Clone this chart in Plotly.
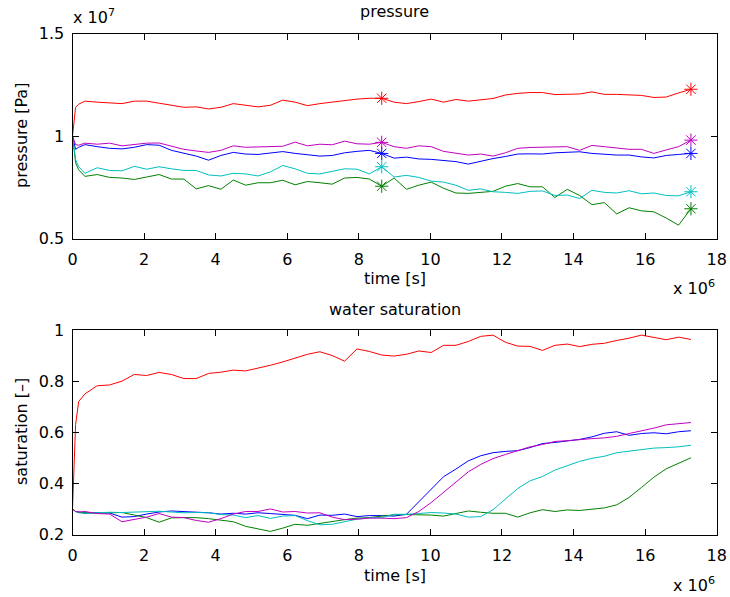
import plotly.graph_objects as go

# time grid (days of simulation); converted to seconds for the axis
days = [0, 1, 2, 4, 8, 12, 16, 20, 24, 28, 32, 36, 40, 44, 48, 52, 56, 60, 64, 68,
        72, 76, 80, 84, 88, 92, 96, 100, 104, 108, 112, 116, 120, 124, 128, 132,
        136, 140, 144, 148, 152, 156, 160, 164, 168, 172, 176, 180, 184, 188, 192,
        196, 200]
marker_days = [100, 200]

# pressure, units of 1e7 Pa
p_blue = [1.0, 0.935, 0.945, 0.958, 0.948, 0.94, 0.937, 0.945, 0.958, 0.955, 0.93, 0.915,
          0.902, 0.882, 0.905, 0.92, 0.912, 0.91, 0.918, 0.924, 0.915, 0.91, 0.902, 0.905,
          0.918, 0.925, 0.93, 0.915, 0.892, 0.897, 0.888, 0.886, 0.882, 0.875, 0.863,
          0.878, 0.89, 0.9, 0.912, 0.913, 0.912, 0.918, 0.922, 0.923, 0.915, 0.91, 0.907,
          0.907, 0.898, 0.893, 0.905, 0.91, 0.915]
p_green = [1.0, 0.87, 0.835, 0.803, 0.812, 0.798, 0.795, 0.788, 0.8, 0.812, 0.79, 0.79,
           0.742, 0.758, 0.74, 0.785, 0.76, 0.772, 0.772, 0.784, 0.762, 0.778, 0.772, 0.765,
           0.795, 0.798, 0.79, 0.755, 0.795, 0.74, 0.76, 0.775, 0.745, 0.722, 0.72, 0.725,
           0.73, 0.755, 0.768, 0.752, 0.752, 0.7, 0.74, 0.71, 0.665, 0.675, 0.62, 0.65,
           0.635, 0.63, 0.6, 0.565, 0.645]
p_red = [1.0, 1.14, 1.155, 1.17, 1.165, 1.163, 1.158, 1.17, 1.17, 1.16, 1.151, 1.14, 1.142,
         1.132, 1.14, 1.158, 1.15, 1.142, 1.15, 1.175, 1.165, 1.148, 1.158, 1.165, 1.175,
         1.18, 1.184, 1.184, 1.165, 1.158, 1.168, 1.18, 1.165, 1.178, 1.17, 1.176, 1.183,
         1.2, 1.208, 1.212, 1.212, 1.202, 1.203, 1.205, 1.215, 1.203, 1.203, 1.202, 1.198,
         1.188, 1.19, 1.21, 1.228]
p_cyan = [1.0, 0.885, 0.85, 0.818, 0.845, 0.832, 0.83, 0.852, 0.838, 0.85, 0.84, 0.832,
          0.832, 0.81, 0.805, 0.818, 0.815, 0.805, 0.825, 0.856, 0.84, 0.818, 0.815, 0.828,
          0.84, 0.838, 0.815, 0.85, 0.8, 0.808, 0.798, 0.78, 0.775, 0.76, 0.735, 0.742,
          0.728, 0.725, 0.72, 0.73, 0.732, 0.71, 0.712, 0.695, 0.735, 0.725, 0.722, 0.733,
          0.718, 0.722, 0.71, 0.708, 0.728]
p_mag = [1.0, 0.958, 0.955, 0.965, 0.96, 0.965, 0.952, 0.958, 0.965, 0.966, 0.952, 0.935,
         0.927, 0.92, 0.93, 0.952, 0.945, 0.946, 0.948, 0.95, 0.97, 0.952, 0.96, 0.957,
         0.975, 0.962, 0.96, 0.969, 0.948, 0.94, 0.952, 0.948, 0.925, 0.915, 0.907, 0.912,
         0.902, 0.918, 0.94, 0.944, 0.945, 0.946, 0.948, 0.93, 0.954, 0.948, 0.94, 0.935,
         0.935, 0.915, 0.932, 0.948, 0.98]

# water saturation [-]
s_blue = [0.3, 0.29, 0.288, 0.283, 0.286, 0.284, 0.268, 0.27, 0.28, 0.288, 0.292, 0.29,
          0.288, 0.285, 0.28, 0.283, 0.28, 0.285, 0.282, 0.278, 0.275, 0.262, 0.276, 0.275,
          0.28, 0.27, 0.274, 0.274, 0.272, 0.279, 0.327, 0.377, 0.426, 0.456, 0.488, 0.508,
          0.52, 0.525, 0.528, 0.54, 0.556, 0.56, 0.567, 0.572, 0.582, 0.596, 0.602, 0.588,
          0.595, 0.598, 0.594, 0.602, 0.606]
s_green = [0.3, 0.29, 0.287, 0.286, 0.283, 0.285, 0.286, 0.276, 0.266, 0.248, 0.265, 0.266,
           0.266, 0.262, 0.256, 0.25, 0.232, 0.222, 0.212, 0.225, 0.24, 0.236, 0.244, 0.252,
           0.258, 0.264, 0.266, 0.272, 0.277, 0.278, 0.278, 0.276, 0.272, 0.282, 0.292,
           0.287, 0.283, 0.283, 0.268, 0.285, 0.297, 0.29, 0.296, 0.294, 0.298, 0.304,
           0.316, 0.345, 0.384, 0.424, 0.457, 0.477, 0.5]
s_red = [0.3, 0.63, 0.72, 0.75, 0.782, 0.785, 0.8, 0.826, 0.822, 0.834, 0.826, 0.81, 0.81,
         0.83, 0.835, 0.843, 0.84, 0.85, 0.862, 0.875, 0.89, 0.905, 0.915, 0.9, 0.878, 0.926,
         0.916, 0.902, 0.898, 0.905, 0.918, 0.912, 0.94, 0.94, 0.955, 0.975, 0.98, 0.952,
         0.937, 0.936, 0.92, 0.94, 0.945, 0.935, 0.944, 0.948, 0.959, 0.968, 0.98, 0.97,
         0.962, 0.972, 0.963]
s_cyan = [0.3, 0.29, 0.285, 0.283, 0.285, 0.287, 0.286, 0.288, 0.29, 0.291, 0.288, 0.285,
          0.286, 0.285, 0.278, 0.276, 0.266, 0.274, 0.263, 0.272, 0.274, 0.254, 0.238, 0.24,
          0.25, 0.26, 0.265, 0.266, 0.279, 0.279, 0.282, 0.286, 0.284, 0.28, 0.268, 0.27,
          0.297, 0.34, 0.38, 0.41, 0.427, 0.452, 0.47, 0.486, 0.498, 0.506, 0.52, 0.526,
          0.531, 0.538, 0.54, 0.543, 0.549]
s_mag = [0.3, 0.29, 0.288, 0.29, 0.282, 0.28, 0.25, 0.258, 0.268, 0.282, 0.268, 0.266,
         0.255, 0.248, 0.262, 0.28, 0.29, 0.29, 0.3, 0.288, 0.29, 0.284, 0.285, 0.268, 0.258,
         0.26, 0.264, 0.264, 0.262, 0.266, 0.29, 0.325, 0.365, 0.408, 0.445, 0.474, 0.497,
         0.513, 0.529, 0.543, 0.552, 0.564, 0.567, 0.572, 0.575, 0.578, 0.584, 0.595, 0.605,
         0.616, 0.629, 0.634, 0.638]

colors = ["#0000ff", "#008000", "#ff0000", "#00bfbf", "#bf00bf"]
p_series = [p_blue, p_green, p_red, p_cyan, p_mag]
s_series = [s_blue, s_green, s_red, s_cyan, s_mag]
for s in p_series + s_series:
    assert len(s) == len(days)

t_sec = [d * 86400 for d in days]
x_ticks = [0, 2e6, 4e6, 6e6, 8e6, 10e6, 12e6, 14e6, 16e6, 18e6]
x_ticktext = ["0", "2", "4", "6", "8", "10", "12", "14", "16", "18"]
p_ticks = [0.5, 1.0, 1.5]
p_ticktext = ["0.5", "1", "1.5"]
s_ticks = [0.2, 0.4, 0.6, 0.8, 1.0]
s_ticktext = ["0.2", "0.4", "0.6", "0.8", "1"]

FONT = "DejaVu Sans"
FS = 16

fig = go.Figure()
for col, ser in zip(colors, p_series):
    fig.add_trace(go.Scatter(x=t_sec, y=ser, mode="lines", line=dict(color=col, width=1),
                             xaxis="x", yaxis="y", showlegend=False, hoverinfo="skip"))
    mi = [days.index(d) for d in marker_days]
    fig.add_trace(go.Scatter(x=[t_sec[i] for i in mi], y=[ser[i] for i in mi], mode="markers",
                             marker=dict(symbol="asterisk-open", size=11, color=col,
                                         line=dict(color=col, width=1)),
                             xaxis="x", yaxis="y", showlegend=False, hoverinfo="skip"))
for col, ser in zip(colors, s_series):
    fig.add_trace(go.Scatter(x=t_sec, y=ser, mode="lines", line=dict(color=col, width=1),
                             xaxis="x2", yaxis="y2", showlegend=False, hoverinfo="skip"))

W, H = 730, 597
xd = [72.5 / W, 716.7 / W]
axis_common = dict(showline=True, linecolor="black", linewidth=1, mirror="ticks",
                   ticks="inside", ticklen=6, tickcolor="black", showgrid=False,
                   zeroline=False, automargin=False,
                   tickfont=dict(family=FONT, size=FS, color="black"))

fig.update_layout(
    width=W, height=H, margin=dict(l=0, r=0, t=0, b=0, autoexpand=False),
    paper_bgcolor="white", plot_bgcolor="white",
    xaxis=dict(domain=xd, range=[0, 18e6], tickvals=x_ticks, ticktext=x_ticktext,
               anchor="y", ticklabelstandoff=6, **axis_common),
    yaxis=dict(domain=[1 - 238.5 / H, 1 - 33.5 / H], range=[0.5, 1.5], tickvals=p_ticks,
               ticktext=p_ticktext, anchor="x", ticklabelstandoff=4, **axis_common),
    xaxis2=dict(domain=xd, range=[0, 18e6], tickvals=x_ticks, ticktext=x_ticktext,
                anchor="y2", ticklabelstandoff=6, **axis_common),
    yaxis2=dict(domain=[1 - 534.5 / H, 1 - 330 / H], range=[0.2, 1.0], tickvals=s_ticks,
                ticktext=s_ticktext, anchor="x2", ticklabelstandoff=4, **axis_common),
)

def ann(text, xpx, ypx, xanchor="center", yanchor="middle", angle=0):
    fig.add_annotation(text=text, x=xpx / W, y=1 - ypx / H, xref="paper", yref="paper",
                       xanchor=xanchor, yanchor=yanchor, showarrow=False, textangle=angle,
                       font=dict(family=FONT, size=FS, color="black"))

xc = (72.5 + 716.7) / 2
ann("pressure", xc, 12)
ann("water saturation", xc, 309)
ann("time [s]", xc, 278)
ann("time [s]", xc, 575)
ann("pressure [Pa]", 21, 136, angle=-90)
ann("saturation [\u2013]", 21, 432, angle=-90)
ann("x 10<sup>7</sup>", 71, 17, xanchor="left")
ann("x 10<sup>6</sup>", 671, 287, xanchor="left")
ann("x 10<sup>6</sup>", 671, 584, xanchor="left")

fig.write_html("out.html")
